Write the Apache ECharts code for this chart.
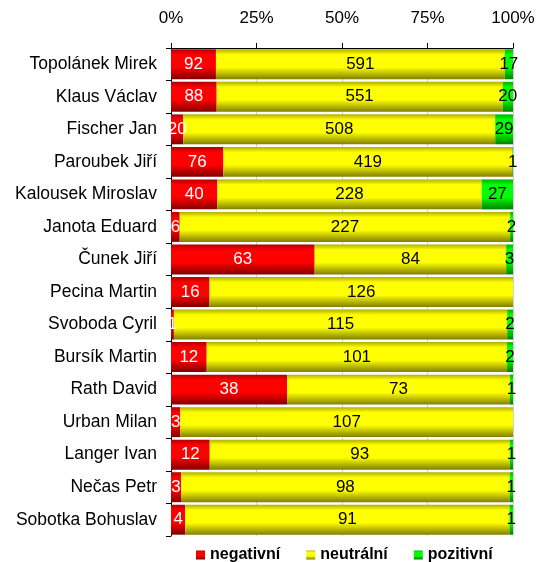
<!DOCTYPE html>
<html>
<head>
<meta charset="utf-8">
<script src="https://cdn.jsdelivr.net/npm/echarts@6/dist/echarts.min.js"></script>
<style>html,body{margin:0;padding:0;background:#fff;}#c{width:538px;height:562px;}</style>
</head>
<body>
<div id="c"></div>
<script>
const categories = ["Topolánek Mirek","Klaus Václav","Fischer Jan","Paroubek Jiří","Kalousek Miroslav","Janota Eduard","Čunek Jiří","Pecina Martin","Svoboda Cyril","Bursík Martin","Rath David","Urban Milan","Langer Ivan","Nečas Petr","Sobotka Bohuslav"];
const negative = [92, 88, 20, 76, 40, 6, 63, 16, 1, 12, 38, 3, 12, 3, 4];
const neutral  = [591, 551, 508, 419, 228, 227, 84, 126, 115, 101, 73, 107, 93, 98, 91];
const positive = [17, 20, 29, 1, 27, 2, 3, 0, 2, 2, 1, 0, 1, 1, 1];
const seriesNames = ["negativní", "neutrální", "pozitivní"];
const tickLabels = ["0%", "25%", "50%", "75%", "100%"];

const raw = [negative, neutral, positive];
const totals = categories.map((_, i) => negative[i] + neutral[i] + positive[i]);
function grad(edgeTop, mid, edgeBot) {
  return new echarts.graphic.LinearGradient(0, 0, 0, 1, [
    {offset: 0, color: edgeTop},
    {offset: 0.18, color: mid},
    {offset: 0.6, color: mid},
    {offset: 1, color: edgeBot}
  ]);
}
const colors = [
  grad('#b00000', '#ff0000', '#800000'),
  grad('#b0b000', '#ffff00', '#808000'),
  grad('#00b000', '#00ff00', '#008000')
];
const labelColors = ['#ffffff', '#000000', '#000000'];
const FONT = 'Liberation Sans, Arial, sans-serif';

const chart = echarts.init(document.getElementById('c'), null, {renderer: 'canvas'});
chart.setOption({
  animation: false,
  backgroundColor: '#fff',
  grid: {left: 171, right: 25, top: 48, bottom: 26, containLabel: false},
  legend: {
    top: 542, left: 191, itemWidth: 9, itemHeight: 9, itemGap: 26,
    icon: 'rect',
    textStyle: {fontFamily: FONT, fontWeight: 'bold', fontSize: 16, color: '#000'},
    data: seriesNames
  },
  xAxis: {
    type: 'value', position: 'top', min: 0, max: 100, interval: 25,
    axisLabel: {
      formatter: v => tickLabels[Math.round(v / 25)],
      fontFamily: FONT, fontSize: 17, color: '#000', margin: 21
    },
    axisLine: {show: true, lineStyle: {color: '#000'}},
    axisTick: {show: true, length: 5, lineStyle: {color: '#000'}},
    splitLine: {show: true, lineStyle: {color: '#d0d0d0'}}
  },
  yAxis: {
    type: 'category', inverse: true, data: categories,
    axisLabel: {fontFamily: FONT, fontSize: 17.5, color: '#000', margin: 14},
    axisLine: {show: true, lineStyle: {color: '#000'}},
    axisTick: {show: true, length: 5, lineStyle: {color: '#000'}}
  },
  series: raw.map((arr, s) => ({
    name: seriesNames[s],
    type: 'bar',
    stack: 'total',
    barCategoryGap: '8%',
    itemStyle: {color: colors[s]},
    label: {
      show: true, position: 'inside',
      fontFamily: FONT, fontSize: 17, color: labelColors[s],
      formatter: p => arr[p.dataIndex] > 0 ? String(arr[p.dataIndex]) : ''
    },
    data: arr.map((v, i) => v / totals[i] * 100)
  }))
});
</script>
</body>
</html>
